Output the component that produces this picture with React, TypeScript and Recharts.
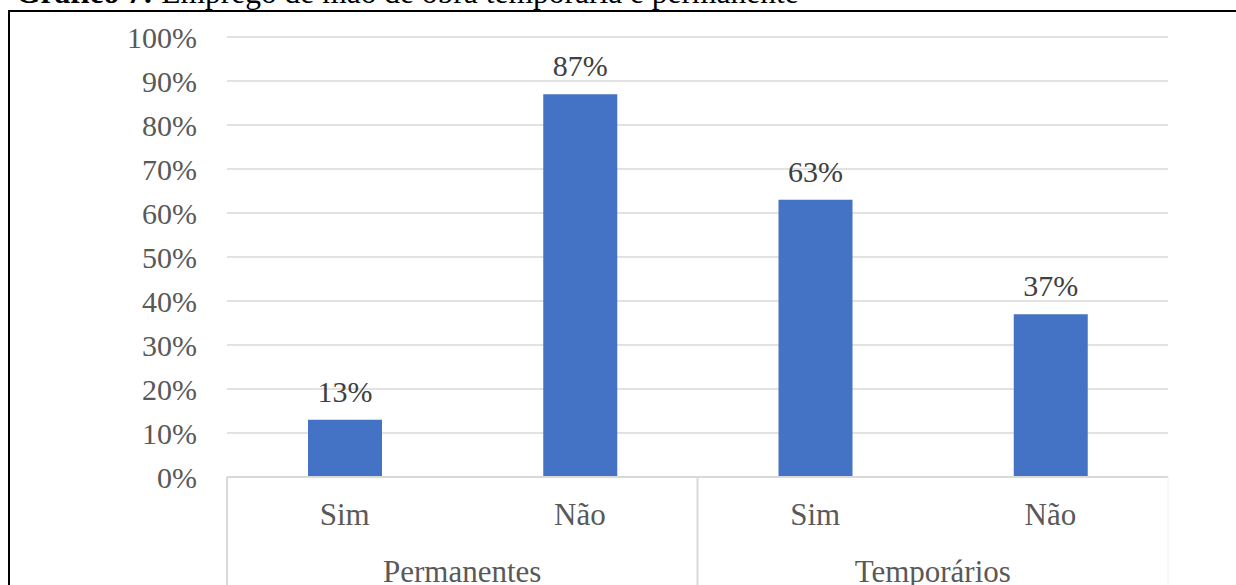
import React from 'react';
import { BarChart, Bar, XAxis, YAxis, CartesianGrid, LabelList } from 'recharts';

const categories = ['Sim', 'Não', 'Sim', 'Não'];
const groups = ['Permanentes', 'Permanentes', 'Temporários', 'Temporários'];
const shares = [13, 87, 63, 37];
const yTicks = [0, 10, 20, 30, 40, 50, 60, 70, 80, 90, 100];

const data = categories.map((answer, i) => ({
  answer: `${answer}-${i}`,
  label: answer,
  group: groups[i],
  value: shares[i],
}));

const FONT = '"Liberation Serif", "Times New Roman", serif';
const AXIS_GRAY = '#d9d9d9';
const TEXT_GRAY = '#595959';

const AnswerTick = (props: any) => {
  const { x, y, index } = props;
  return (
    <text x={x} y={y + 48} textAnchor="middle" fontFamily={FONT} fontSize={31} fill={TEXT_GRAY}>
      {categories[index]}
    </text>
  );
};

const GroupTick = (props: any) => {
  const { x, y, payload, index, visibleTicksCount } = props;
  const half = payload?.offset ?? 0;
  const isLast = index === (visibleTicksCount ?? 2) - 1;
  return (
    <g>
      <line x1={x - half} x2={x - half} y1={y - 54} y2={y + 60} stroke={AXIS_GRAY} strokeWidth={2} />
      {isLast && (
        <line x1={x + half} x2={x + half} y1={y - 54} y2={y + 60} stroke="#f0f0f0" strokeWidth={1} />
      )}
      <text x={x} y={y + 51} textAnchor="middle" fontFamily={FONT} fontSize={31} fill={TEXT_GRAY}>
        {payload.value}
      </text>
    </g>
  );
};

export default function App() {
  return (
    <div style={{ position: 'absolute', left: 0, top: 0, width: 1236, height: 585, overflow: 'hidden', background: '#fff' }}>
      <BarChart width={1236} height={585} data={data} margin={{ top: 37, right: 68, left: 0, bottom: 0 }}>
        <CartesianGrid vertical={false} stroke={AXIS_GRAY} strokeWidth={1.5} />
        <XAxis
          dataKey="answer"
          height={54}
          tickSize={0}
          tickMargin={0}
          axisLine={{ stroke: AXIS_GRAY, strokeWidth: 2 }}
          tickLine={false}
          tick={<AnswerTick />}
          interval={0}
        />
        <XAxis
          xAxisId="group"
          dataKey="group"
          allowDuplicatedCategory={false}
          height={54}
          tickSize={0}
          tickMargin={0}
          axisLine={false}
          tickLine={false}
          tick={<GroupTick />}
          interval={0}
        />
        <YAxis
          width={227}
          domain={[0, 100]}
          ticks={yTicks}
          tickFormatter={(v: number) => `${v}%`}
          axisLine={false}
          tickLine={false}
          tickSize={0}
          tickMargin={30}
          tick={{ fontFamily: FONT, fontSize: 30, fill: TEXT_GRAY }}
          interval={0}
        />
        <Bar dataKey="value" fill="#4472c4" barSize={74} isAnimationActive={false}>
          <LabelList
            dataKey="value"
            position="top"
            offset={18}
            formatter={(v: any) => `${v}%`}
            style={{ fontFamily: FONT, fontSize: 30, fill: '#404040' }}
          />
        </Bar>
      </BarChart>
      <svg width={1236} height={585} style={{ position: 'absolute', left: 0, top: 0, pointerEvents: 'none' }}>
        <text x={16} y={2.5} fontFamily={FONT} fontSize={31.5} fill="#000">
          <tspan fontWeight="bold">Gráfico 7:</tspan>
          <tspan> Emprego de mão de obra temporária e permanente</tspan>
        </text>
        <line x1={9} x2={9} y1={10} y2={585} stroke="#000" strokeWidth={2} />
        <line x1={8} x2={1236} y1={11} y2={11} stroke="#000" strokeWidth={2} />
      </svg>
    </div>
  );
}
